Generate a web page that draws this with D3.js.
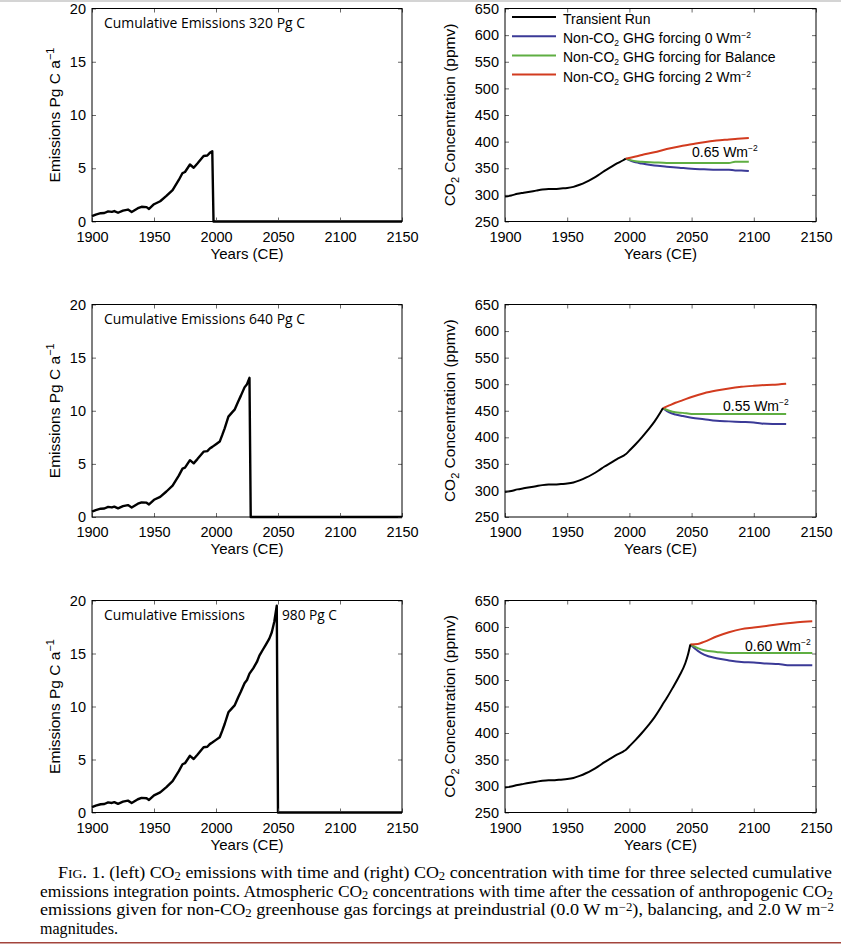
<!DOCTYPE html>
<html>
<head>
<meta charset="utf-8">
<script src="https://cdn.jsdelivr.net/npm/d3@7"></script>
<style>
  body { margin: 0; background: #fff; }
  svg { display: block; }
  text { font-family: "Liberation Sans", Arial, sans-serif; fill: #000; }
</style>
</head>
<body>
<svg width="841" height="947"></svg>
<script>
// emissions history (Pg C / yr), same path for all three runs, cut at the stop year
const emisYears = [1900, 1903, 1907, 1910, 1913, 1916, 1918, 1921, 1925, 1929, 1932, 1937, 1940, 1944, 1946,
  1950, 1955, 1960, 1965, 1970, 1973, 1975, 1979, 1982, 1985, 1990, 1993, 1995, 1997, 2000, 2003, 2005,
  2007, 2010, 2013, 2015, 2018, 2020, 2023, 2025, 2027, 2030, 2033, 2035, 2038, 2040, 2043, 2045, 2047, 2049];
const emisValues = [0.5, 0.65, 0.78, 0.8, 0.95, 0.9, 0.98, 0.82, 1.02, 1.12, 0.9, 1.25, 1.38, 1.35, 1.18,
  1.62, 1.9, 2.4, 2.95, 3.9, 4.55, 4.65, 5.35, 5.05, 5.45, 6.15, 6.2, 6.45, 6.6, 6.85, 7.1, 7.7,
  8.35, 9.45, 9.85, 10.1, 10.9, 11.4, 12.2, 12.5, 13.1, 13.6, 14.2, 14.8, 15.4, 15.8, 16.4, 17.0, 18.0, 19.5];

// transient run CO2 (ppmv)
const co2Years = [1900, 1905, 1910, 1915, 1920, 1925, 1930, 1935, 1940, 1945, 1950, 1955, 1960, 1965, 1970,
  1975, 1980, 1985, 1990, 1995, 1997, 2000, 2005, 2010, 2015, 2020, 2025, 2027, 2030, 2035, 2040, 2045, 2047, 2049];
const co2Values = [297, 299, 302, 304, 306, 308, 310, 311, 311, 312, 313, 315, 319, 324, 330,
  337, 345, 352, 359, 365, 368, 375, 387, 400, 414, 429, 447, 455, 466, 486, 507, 532, 547, 567];

const stopYears = [1997, 2027, 2049];
const cumLabels = ["Cumulative Emissions 320 Pg C", "Cumulative Emissions 640 Pg C", "Cumulative Emissions"];
const balanceLabels = ["0.65", "0.55", "0.60"];

// after emissions stop: 0 Wm-2 (blue), balance (green), 2 Wm-2 (red)
const postYears320 = [1997, 2005, 2010, 2020, 2030, 2040, 2050, 2060, 2070, 2080, 2085, 2090, 2096];
const red320 = [368, 372, 375, 380, 386, 391, 395, 399, 402, 404, 405, 406, 407];
const green320 = [368, 363, 362, 361, 360, 360, 360, 360, 360, 360, 362, 362, 362];
const blue320 = [368, 361, 359, 355, 353, 351, 349, 348, 347, 347, 346, 346, 345];

const postYears640 = [2027, 2032, 2037, 2043, 2050, 2060, 2070, 2080, 2090, 2100, 2106, 2115, 2126];
const red640 = [455, 460, 465, 470, 476, 483, 488, 492, 495, 497, 498, 499, 501];
const green640 = [455, 450, 447, 446, 444, 444, 444, 444, 444, 444, 444, 444, 444];
const blue640 = [455, 447, 443, 440, 437, 434, 431, 430, 429, 428, 426, 425, 425];

const postYears980 = [2049, 2055, 2060, 2070, 2080, 2090, 2100, 2110, 2120, 2127, 2135, 2147];
const red980 = [567, 568, 572, 582, 590, 596, 599, 602, 605, 607, 609, 611];
const green980 = [567, 560, 556, 553, 551, 551, 551, 551, 551, 551, 551, 551];
const blue980 = [567, 555, 548, 541, 537, 534, 533, 531, 530, 528, 528, 528];

const legendLabels = ["Transient Run", "Non-CO|2| GHG forcing 0 Wm^-2", "Non-CO|2| GHG forcing for Balance", "Non-CO|2| GHG forcing 2 Wm^-2"];
const emisTicks = [0, 5, 10, 15, 20];
const co2Ticks = [250, 300, 350, 400, 450, 500, 550, 600, 650];
const yearTicks = [1900, 1950, 2000, 2050, 2100, 2150];

const post = [
  [postYears320, blue320, green320, red320],
  [postYears640, blue640, green640, red640],
  [postYears980, blue980, green980, red980]
];

const BLUE = "#3b3a97", GREEN = "#5fae42", RED = "#d23b1f";
const rows = [[8.5, 221.5], [304.5, 517], [600.5, 812.5]];
const leftX = [92, 402];
const rightX = [505, 816];

const svg = d3.select("svg");

// page decorations
svg.append("rect").attr("x", 0).attr("y", 0).attr("width", 841).attr("height", 2).attr("fill", "#d4d4d4");
svg.append("rect").attr("x", 0).attr("y", 942).attr("width", 841).attr("height", 1.5).attr("fill", "#a3443c");

// writes "a|sub|b^-2" style strings as tspans; shift is undone on the next piece
function rich(t, s, small, sub, sup) {
  sub = sub || 4; sup = sup || 6;
  const parts = s.split(/(\|[^|]*\||\^-?\d+)/).filter((p) => p.length);
  let back = 0;
  parts.forEach((p) => {
    if (p[0] === "|") {
      t.append("tspan").attr("dy", back + sub).style("font-size", small + "px").text(p.slice(1, -1));
      back = -sub;
    } else if (p[0] === "^") {
      t.append("tspan").attr("dy", back - sup).style("font-size", small + "px").text(p.slice(1).replace("-", "\u2212"));
      back = sup;
    } else {
      const ts = t.append("tspan").text(p);
      if (back) ts.attr("dy", back);
      back = 0;
    }
  });
}

function frame(g, x, y, yt) {
  const xa = d3.axisBottom(x).tickValues(yearTicks).tickSize(-4).tickPadding(10).tickFormat(d3.format("d"));
  const ya = d3.axisLeft(y).tickValues(yt).tickSize(-4).tickPadding(6);
  const y0 = y.range()[0], y1 = y.range()[1];
  const x0 = x.range()[0], x1 = x.range()[1];
  g.append("g").attr("transform", "translate(0," + y0 + ")").call(xa);
  g.append("g").attr("transform", "translate(" + x0 + ",0)").call(ya);
  g.append("g").attr("transform", "translate(0," + y1 + ")")
    .call(d3.axisTop(x).tickValues(yearTicks).tickSize(-4).tickFormat(""));
  g.append("g").attr("transform", "translate(" + x1 + ",0)")
    .call(d3.axisRight(y).tickValues(yt).tickSize(-4).tickFormat(""));
  g.selectAll(".domain").remove();
  g.selectAll(".tick line").attr("stroke", "#444").attr("stroke-width", 0.8);
  g.selectAll(".tick text").filter(function () { return this.textContent === ""; }).remove();
  g.selectAll(".tick text").style("font-size", "14.5px");
  g.append("rect").attr("x", x0).attr("y", y1).attr("width", x1 - x0).attr("height", y0 - y1)
    .attr("fill", "none").attr("stroke", "#000").attr("stroke-width", 1);
  g.append("text").attr("x", (x0 + x1) / 2).attr("y", y0 + 37)
    .attr("text-anchor", "middle").style("font-size", "15px").text("Years (CE)");
}

rows.forEach((r, i) => {
  const stop = stopYears[i];
  const cy = (r[0] + r[1]) / 2;

  // ----- left: emissions -----
  const gl = svg.append("g");
  const x = d3.scaleLinear().domain([1900, 2150]).range(leftX);
  const y = d3.scaleLinear().domain([0, 20]).range([r[1], r[0]]);
  const e = emisYears.map((yr, k) => [yr, emisValues[k]]).filter((d) => d[0] <= stop);
  e.push([stop + 1, 0], [2150, 0]);
  gl.append("path").datum(e)
    .attr("d", d3.line().x((d) => x(d[0])).y((d) => y(d[1])))
    .attr("fill", "none").attr("stroke", "#000").attr("stroke-width", 2.4).attr("stroke-linejoin", "round");
  frame(gl, x, y, emisTicks);
  gl.append("text").attr("transform", "translate(60," + cy + ") rotate(-90)")
    .attr("text-anchor", "middle").style("font-size", "15.5px")
    .call((t) => rich(t, "Emissions Pg C a^-1", 11));
  const cum = (s, x0, w) => gl.append("text").attr("x", x0).attr("y", r[0] + 19)
    .attr("textLength", w).attr("lengthAdjust", "spacingAndGlyphs")
    .style("font-family", "'Open Sans', sans-serif").style("font-size", "14.5px").text(s);
  if (i < 2) {
    cum(cumLabels[i], 104, 201);
  } else {
    cum(cumLabels[i], 104, 141);
    cum("980 Pg C", 282, 55);
  }

  // ----- right: CO2 concentration -----
  const gr = svg.append("g");
  const xr = d3.scaleLinear().domain([1900, 2150]).range(rightX);
  const yr = d3.scaleLinear().domain([250, 650]).range([r[1], r[0]]);
  const line = d3.line().x((d) => xr(d[0])).y((d) => yr(d[1])).curve(d3.curveMonotoneX);
  const [py, blue, green, red] = post[i];
  [[blue, BLUE], [green, GREEN], [red, RED]].forEach(([vals, col]) => {
    gr.append("path").datum(py.map((yy, k) => [yy, vals[k]]))
      .attr("d", line).attr("fill", "none").attr("stroke", col).attr("stroke-width", 2);
  });
  const tr = co2Years.map((yy, k) => [yy, co2Values[k]]).filter((d) => d[0] <= stop);
  gr.append("path").datum(tr).attr("d", line)
    .attr("fill", "none").attr("stroke", "#000").attr("stroke-width", 2);
  frame(gr, xr, yr, co2Ticks);
  gr.append("text").attr("transform", "translate(455," + cy + ") rotate(-90)")
    .attr("text-anchor", "middle").style("font-size", "15.5px")
    .call((t) => rich(t, "CO|2| Concentration (ppmv)", 11));

  const lbx = [692, 723, 745][i];
  const lby = [157, 411, 650.5][i];
  gr.append("text").attr("x", lbx).attr("y", lby).style("font-size", "14px")
    .call((t) => rich(t, balanceLabels[i] + " Wm^-2", 8.5));

  if (i === 0) {
    const cols = ["#000", BLUE, GREEN, RED];
    legendLabels.forEach((lab, k) => {
      const ly = 17 + k * 19.2;
      gr.append("line").attr("x1", 512).attr("x2", 556).attr("y1", ly).attr("y2", ly)
        .attr("stroke", cols[k]).attr("stroke-width", 2);
      gr.append("text").attr("x", 563).attr("y", ly + 7).style("font-size", "14px")
        .call((t) => rich(t, lab, 8.5, 3, 5));
    });
  }
});

// caption
const capLines = [
  "emissions integration points. Atmospheric CO|2| concentrations with time after the cessation of anthropogenic CO|2|",
  "emissions given for non-CO|2| greenhouse gas forcings at preindustrial (0.0 W m^-2), balancing, and 2.0 W m^-2",
  "magnitudes."
];
const capFont = "'Liberation Serif', 'Times New Roman', serif";
const c1 = svg.append("text").attr("x", 58).attr("y", 878).style("font-family", capFont)
  .style("font-size", "17px").attr("textLength", 774).attr("lengthAdjust", "spacingAndGlyphs");
c1.append("tspan").text("F");
c1.append("tspan").style("font-size", "13px").text("IG");
c1.append("tspan").text(". 1. (left) ");
rich(c1, "CO|2| emissions with time and (right) CO|2| concentration with time for three selected cumulative", 12, 2, 4.5);
capLines.forEach((s, k) => {
  const t = svg.append("text").attr("x", 40).attr("y", 896.5 + k * 18.5)
    .style("font-family", capFont).style("font-size", "17px");
  if (k < 2) t.attr("textLength", k === 0 ? 793 : 794).attr("lengthAdjust", "spacingAndGlyphs");
  else t.attr("textLength", 78).attr("lengthAdjust", "spacingAndGlyphs");
  rich(t, s, 12, 2, 4.5);
});
</script>
</body>
</html>
